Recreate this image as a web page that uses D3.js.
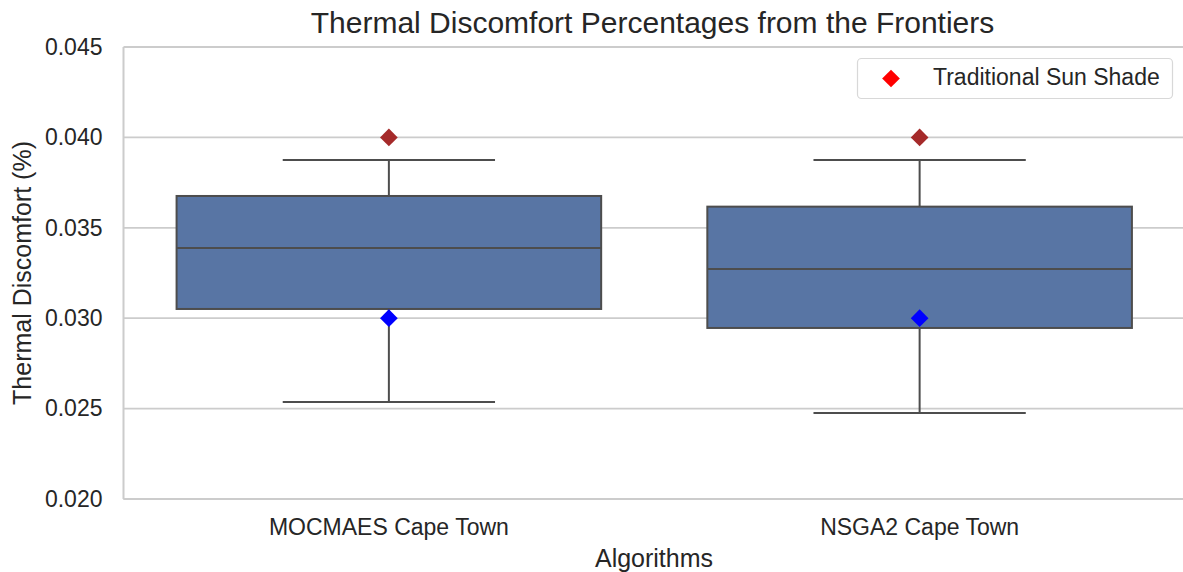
<!DOCTYPE html>
<html>
<head>
<meta charset="utf-8">
<script src="https://cdn.jsdelivr.net/npm/d3@7"></script>
<style>
  body { margin: 0; background: #fff; }
  text { font-family: "Liberation Sans", Arial, sans-serif; fill: #262626; }
</style>
</head>
<body>
<svg id="chart" width="1183" height="572"></svg>
<script>
// Data.
var categories = ['MOCMAES Cape Town', 'NSGA2 Cape Town'];
var whiskerLow = [0.02537, 0.02476];
var quartile1 = [0.03051, 0.02946];
var medians = [0.03388, 0.03272];
var quartile3 = [0.03676, 0.03617];
var whiskerHigh = [0.03875, 0.03875];
var traditionalShade = [0.040, 0.040];
var referencePoints = [0.030, 0.030];
var yTicks = [0.020, 0.025, 0.030, 0.035, 0.040, 0.045];

// Layout constants.
var kLeft = 123.5;
var kRight = 1185;
var kTop = 47;
var kBottom = 499;
var kGridColor = '#cccccc';
var kBoxFill = '#5875a4';
var kLineColor = '#4d4d4d';
var kTickFont = '23px';

var svg = d3.select('#chart');

var x = d3.scaleBand()
  .domain(categories)
  .range([kLeft, kRight]);

var y = d3.scaleLinear()
  .domain([0.020, 0.045])
  .range([kBottom, kTop]);

// Horizontal grid lines.
svg.append('g')
  .selectAll('line')
  .data(yTicks)
  .enter().append('line')
  .attr('x1', kLeft)
  .attr('x2', kRight)
  .attr('y1', function(d) { return y(d); })
  .attr('y2', function(d) { return y(d); })
  .attr('stroke', kGridColor)
  .attr('stroke-width', 1.8);

// Left and bottom spines.
svg.append('line')
  .attr('x1', kLeft).attr('x2', kLeft)
  .attr('y1', kTop).attr('y2', kBottom)
  .attr('stroke', kGridColor).attr('stroke-width', 2);
svg.append('line')
  .attr('x1', kLeft).attr('x2', kRight)
  .attr('y1', kBottom).attr('y2', kBottom)
  .attr('stroke', kGridColor).attr('stroke-width', 2);

// Y axis.
var yAxis = svg.append('g')
  .attr('transform', 'translate(' + kLeft + ',0)')
  .call(d3.axisLeft(y).tickValues(yTicks).tickFormat(d3.format('.3f'))
    .tickSize(0).tickPadding(21));
yAxis.select('.domain').remove();
yAxis.selectAll('text')
  .style('font-size', kTickFont)
  .attr('fill', '#262626');

// X axis.
var xAxis = svg.append('g')
  .attr('transform', 'translate(0,' + kBottom + ')')
  .call(d3.axisBottom(x).tickSize(0).tickPadding(20));
xAxis.select('.domain').remove();
xAxis.selectAll('text')
  .style('font-size', kTickFont)
  .attr('fill', '#262626');

// Boxes.
var boxWidth = x.bandwidth() * 0.8;
var groups = svg.append('g')
  .selectAll('g')
  .data(categories)
  .enter().append('g');

function Center(d) { return x(d) + x.bandwidth() / 2; }

groups.append('line')
  .attr('x1', Center).attr('x2', Center)
  .attr('y1', function(d, i) { return y(whiskerHigh[i]); })
  .attr('y2', function(d, i) { return y(quartile3[i]); })
  .attr('stroke', kLineColor).attr('stroke-width', 2);
groups.append('line')
  .attr('x1', Center).attr('x2', Center)
  .attr('y1', function(d, i) { return y(quartile1[i]); })
  .attr('y2', function(d, i) { return y(whiskerLow[i]); })
  .attr('stroke', kLineColor).attr('stroke-width', 2);

// Whisker caps.
[whiskerHigh, whiskerLow].forEach(function(values) {
  groups.append('line')
    .attr('x1', function(d) { return Center(d) - boxWidth / 4; })
    .attr('x2', function(d) { return Center(d) + boxWidth / 4; })
    .attr('y1', function(d, i) { return y(values[i]); })
    .attr('y2', function(d, i) { return y(values[i]); })
    .attr('stroke', kLineColor).attr('stroke-width', 2);
});

groups.append('rect')
  .attr('x', function(d) { return Center(d) - boxWidth / 2; })
  .attr('width', boxWidth)
  .attr('y', function(d, i) { return y(quartile3[i]); })
  .attr('height', function(d, i) { return y(quartile1[i]) - y(quartile3[i]); })
  .attr('fill', kBoxFill)
  .attr('stroke', kLineColor).attr('stroke-width', 2);

groups.append('line')
  .attr('x1', function(d) { return Center(d) - boxWidth / 2; })
  .attr('x2', function(d) { return Center(d) + boxWidth / 2; })
  .attr('y1', function(d, i) { return y(medians[i]); })
  .attr('y2', function(d, i) { return y(medians[i]); })
  .attr('stroke', kLineColor).attr('stroke-width', 2);

// Diamond markers.
var diamond = d3.symbol().type(d3.symbolDiamond2).size(200);
groups.append('path')
  .attr('d', diamond)
  .attr('transform', function(d, i) {
    return 'translate(' + Center(d) + ',' + y(traditionalShade[i]) + ')';
  })
  .attr('fill', '#a52a2a');
groups.append('path')
  .attr('d', diamond)
  .attr('transform', function(d, i) {
    return 'translate(' + Center(d) + ',' + y(referencePoints[i]) + ')';
  })
  .attr('fill', '#0000ff');

// Legend.
var legend = svg.append('g');
legend.append('rect')
  .attr('x', 857.5).attr('y', 58.5)
  .attr('width', 315).attr('height', 40)
  .attr('rx', 4).attr('ry', 4)
  .attr('fill', '#ffffff')
  .attr('stroke', '#d8d8d8').attr('stroke-width', 1.2);
legend.append('path')
  .attr('d', diamond)
  .attr('transform', 'translate(891,78.5)')
  .attr('fill', '#ff0000');
legend.append('text')
  .attr('x', 933).attr('y', 85)
  .style('font-size', kTickFont)
  .text('Traditional Sun Shade');

// Title and axis labels.
svg.append('text')
  .attr('x', 652.5).attr('y', 33)
  .attr('text-anchor', 'middle')
  .style('font-size', '30px')
  .text('Thermal Discomfort Percentages from the Frontiers');
svg.append('text')
  .attr('x', 654).attr('y', 567)
  .attr('text-anchor', 'middle')
  .style('font-size', '25px')
  .text('Algorithms');
svg.append('text')
  .attr('transform', 'translate(31,' + (kTop + kBottom) / 2 + ') rotate(-90)')
  .attr('text-anchor', 'middle')
  .style('font-size', '25px')
  .text('Thermal Discomfort (%)');
</script>
</body>
</html>
